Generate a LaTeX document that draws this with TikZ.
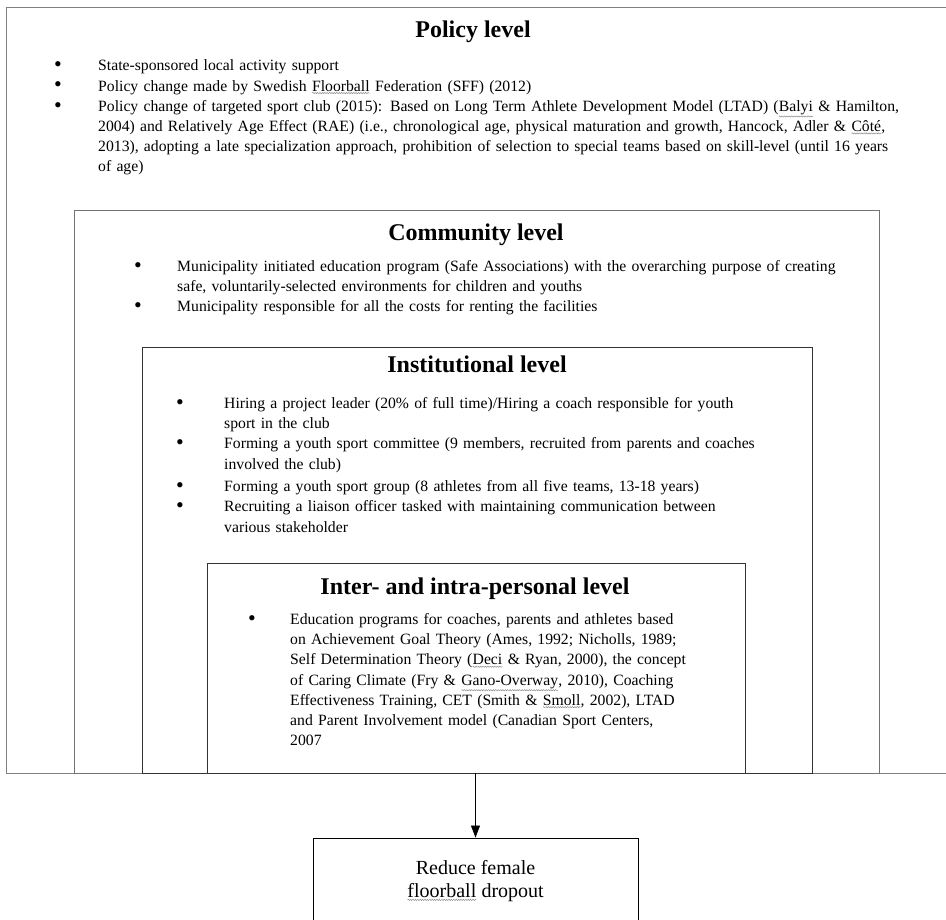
\documentclass[tikz,border=0pt]{standalone}
\usepackage{fontspec}
\setmainfont{Liberation Serif}
\usetikzlibrary{positioning, arrows.meta, decorations.pathmorphing}
\tikzstyle{Level}=[draw, rectangle, anchor=north west, inner sep=0pt, outer sep=0pt, line width=0.9pt]
\tikzstyle{Title}=[font=\fontsize{24}{28}\selectfont\bfseries, inner sep=0pt]
\tikzstyle{Items}=[anchor=north west, inner sep=0pt, align=left, font=\fontsize{15.7}{20.2}\selectfont]
\tikzstyle{Goal}=[draw, rectangle, line width=0.9pt, minimum width=325pt, minimum height=87pt, align=center, font=\fontsize{20}{23}\selectfont]
\tikzstyle{Squiggle}=[black!45, line width=0.5pt, decorate, decoration={snake, amplitude=0.6pt, segment length=2.4pt}]
\newcommand{\spell}[1]{\tikz[baseline=(w.base)]{\node[draw=none, inner sep=0pt, outer sep=0pt, minimum width=0pt, minimum height=0pt] (w) {#1}; \draw[Squiggle] ([yshift=-1.8pt]w.south west) -- ([yshift=-1.8pt]w.south east);}}
\newcommand{\dotlabel}{\raisebox{-0.8pt}{\fontsize{22}{20}\selectfont\textbullet}}
\newenvironment{bullets}[1]{\begin{list}{\dotlabel}{\setlength{\leftmargin}{#1}\setlength{\labelwidth}{#1}\setlength{\labelsep}{0pt}\setlength{\itemsep}{0pt}\setlength{\parsep}{0pt}\setlength{\topsep}{0pt}\setlength{\partopsep}{0pt}\renewcommand{\makelabel}[1]{##1\hfil}}}{\end{list}}

\begin{document}
\begin{tikzpicture}[x=1pt, y=1pt]
		\useasboundingbox (0,0) rectangle (946,-920);
		% nested levels
		\node[Level, draw=black!50, minimum width=960pt, minimum height=766pt] (policy) at (6,-7) {};
		\node[Level, draw=black!55, minimum width=805pt, minimum height=563pt] (community) at (74,-210) {};
		\node[Level, draw=black!80, minimum width=670pt, minimum height=426pt] (institution) at (142,-347) {};
		\node[Level, draw=black!80, minimum width=538pt, minimum height=210pt] (personal) at (207,-563) {};
		% policy level
		\node[Title] (policy title) at (473,-31.5) {Policy level};
		\node[Items, text width=890pt] (policy items) at (54,-50.5) {\begin{bullets}{44pt}
			\item State-sponsored local activity support
			\item Policy change made by Swedish \spell{Floorball} Federation (SFF) (2012)
			\item Policy change of targeted sport club (2015): Based on Long Term Athlete Development Model (LTAD) (\spell{Balyi} \& Hamilton,\\
			2004) and Relatively Age Effect (RAE) (i.e., chronological age, physical maturation and growth, Hancock, Adler \& \spell{Côté},\\
			2013), adopting a late specialization approach, prohibition of selection to special teams based on skill-level (until 16 years\\
			of age)
		\end{bullets}};
		% community level
		\node[Title] (community title) at (476,-234.5) {Community level};
		\node[Items, text width=780pt] (community items) at (134,-251) {\begin{bullets}{43pt}
			\item Municipality initiated education program (Safe Associations) with the overarching purpose of creating\\
			safe, voluntarily-selected environments for children and youths
			\item Municipality responsible for all the costs for renting the facilities
		\end{bullets}};
		% institutional level
		\node[Title] (institution title) at (477,-364.5) {Institutional level};
		\node[Items, text width=640pt] (institution items) at (176,-388) {\begin{bullets}{48pt}
			\item Hiring a project leader (20\% of full time)/Hiring a coach responsible for youth\\
			sport in the club
			\item Forming a youth sport committee (9 members, recruited from parents and coaches\\
			involved the club)
			\vspace{2.5pt}
			\item Forming a youth sport group (8 athletes from all five teams, 13-18 years)
			\item Recruiting a liaison officer tasked with maintaining communication between\\
			various stakeholder
		\end{bullets}};
		% inter- and intra-personal level
		\node[Title] (personal title) at (475,-588.5) {Inter- and intra-personal level};
		\node[Items, text width=490pt] (personal items) at (248,-604) {\begin{bullets}{42pt}
			\item Education programs for coaches, parents and athletes based\\
			on Achievement Goal Theory (Ames, 1992; Nicholls, 1989;\\
			Self Determination Theory (\spell{Deci} \& Ryan, 2000), the concept\\
			of Caring Climate (Fry \& \spell{Gano-Overway}, 2010), Coaching\\
			Effectiveness Training, CET (Smith \& \spell{Smoll}, 2002), LTAD\\
			and Parent Involvement model (Canadian Sport Centers,\\
			2007
		\end{bullets}};
		% outcome
		\coordinate (split) at (475.5,-773);
		\node[Goal] (goal) at (475.5,-881.5) {Reduce female\\ \spell{floorball} dropout};
		\draw[-{Triangle[length=12pt, width=9pt]}, line width=0.8pt] (split) -- (goal);
\end{tikzpicture}
\end{document}
